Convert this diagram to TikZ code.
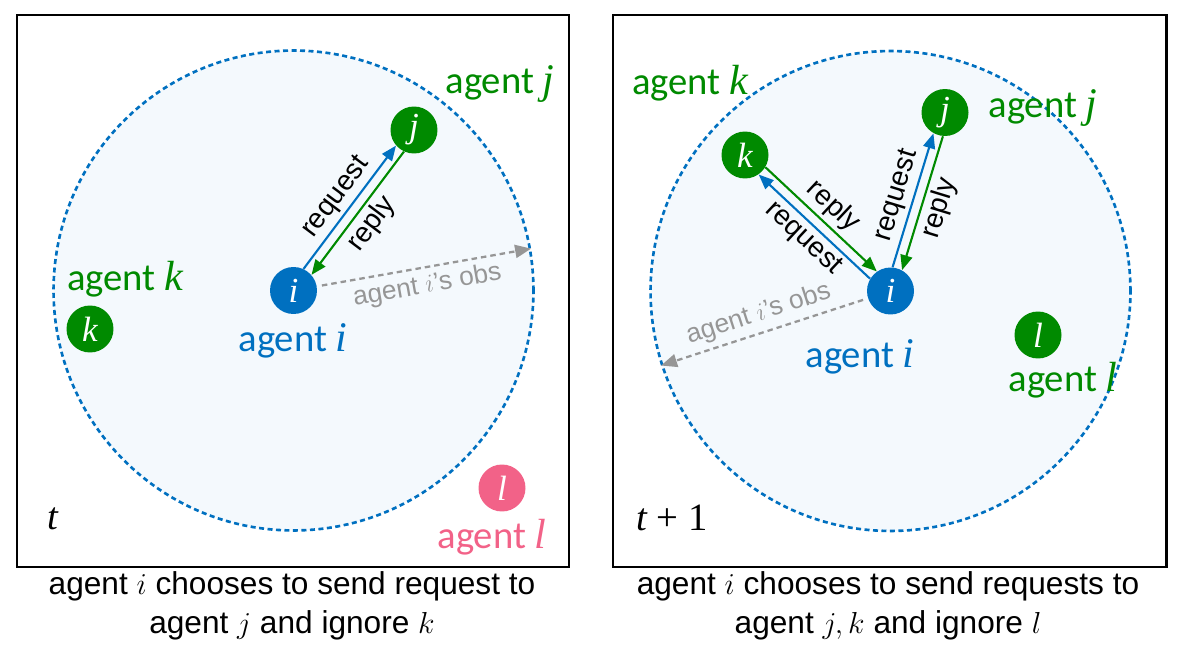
\documentclass[tikz,border=0pt]{standalone}
\usepackage{fontspec}
\setmainfont{Liberation Sans}
\newfontfamily\agentfont{Carlito}
\newfontfamily\letterfont{Liberation Serif}
\usetikzlibrary{arrows.meta,positioning}

\definecolor{agentblue}{RGB}{0,112,192}
\definecolor{agentgreen}{RGB}{0,138,0}
\definecolor{agentpink}{RGB}{242,98,136}
\definecolor{fovfill}{RGB}{244,249,253}
\definecolor{obsgray}{RGB}{150,150,150}

\newcommand{\lt}[1]{{\letterfont\itshape #1}}

\tikzset{
  agent/.style={circle, minimum size=0.94cm, inner sep=0pt, text=white, font=\letterfont\itshape\fontsize{20}{20}\selectfont},
  fov/.style={circle, minimum size=9.6cm, inner sep=0pt, fill=fovfill, draw=agentblue, line width=1.5pt, dash pattern=on 0.1cm off 0.07cm},
  panel/.style={draw=black, line width=1.7pt},
  aglabel/.style={font=\agentfont\fontsize{22}{22}\selectfont, inner sep=1pt},
  msg/.style={line width=1.2pt, -{Triangle[length=0.3cm,width=0.24cm]}},
  msglabel/.style={font=\fontsize{16}{16}\selectfont, text=black, inner sep=2pt},
  obs/.style={draw=obsgray, line width=1.3pt, dash pattern=on 0.11cm off 0.08cm, shorten <=0.1cm, -{Triangle[length=0.32cm,width=0.26cm]}},
  obslabel/.style={font=\fontsize{15}{15}\selectfont, text=obsgray, inner sep=3pt},
  timelabel/.style={font=\letterfont\fontsize{22}{22}\selectfont},
  caption/.style={align=center, font=\fontsize{18}{22.2}\selectfont}
}

\begin{document}
\begin{tikzpicture}[x=0.02cm, y=-0.02cm]
\useasboundingbox (0,0) rectangle (1184,655);

%% TIME STEP t
\draw[panel] (17,15) rectangle (569,567);
\node[fov](fov_t) at (293.5,290.5) {};

\node[agent, fill=agentblue](i_t) at (293.5,290.5) {i};
\node[agent, fill=agentgreen](j_t) at (414,130) {j};
\node[agent, fill=agentgreen](k_t) at (90,329) {k};
\node[agent, fill=agentpink](l_t) at (502,488) {l};

\node[aglabel, text=agentblue](lab_i_t) at (293,341) {agent \lt{\fontsize{24}{24}\selectfont i}};
\node[aglabel, text=agentgreen](lab_j_t) at (500,84) {agent \lt{\fontsize{24}{24}\selectfont j}};
\node[aglabel, text=agentgreen](lab_k_t) at (125,279) {agent \lt{\fontsize{24}{24}\selectfont k}};
\node[aglabel, text=agentpink](lab_l_t) at (492,537) {agent \lt{\fontsize{24}{24}\selectfont l}};
\node[timelabel](time_t) at (53,519) {\lt{t}};

\draw[msg, agentblue] (i_t.65) -- node[msglabel, sloped, above]{request} (j_t.221);
\draw[msg, agentgreen] (j_t.245) -- node[msglabel, sloped, below]{reply} (i_t.41);
\draw[obs] (i_t.10) -- node[obslabel, sloped, below]{agent $i$'s obs} (fov_t.10);

%% TIME STEP t+1
\draw[panel] (613,15) rectangle (1166,567);
\node[fov](fov_t1) at (890.5,291) {};

\node[agent, fill=agentblue](i_t1) at (890.5,291) {i};
\node[agent, fill=agentgreen](j_t1) at (945,112.5) {j};
\node[agent, fill=agentgreen](k_t1) at (745,155) {k};
\node[agent, fill=agentgreen](l_t1) at (1038,335) {l};

\node[aglabel, text=agentblue](lab_i_t1) at (860,357) {agent \lt{\fontsize{24}{24}\selectfont i}};
\node[aglabel, text=agentgreen](lab_j_t1) at (1043,108) {agent \lt{\fontsize{24}{24}\selectfont j}};
\node[aglabel, text=agentgreen](lab_k_t1) at (690,83) {agent \lt{\fontsize{24}{24}\selectfont k}};
\node[aglabel, text=agentgreen](lab_l_t1) at (1063,380) {agent \lt{\fontsize{24}{24}\selectfont l}};
\node[timelabel](time_t1) at (672,518) {\lt{t} + 1};

\draw[msg, agentblue] (i_t1.85) -- node[msglabel, sloped, above]{request} (j_t1.241);
\draw[msg, agentgreen] (j_t1.265) -- node[msglabel, sloped, below]{reply} (i_t1.61);
\draw[msg, agentblue] (i_t1.149) -- node[msglabel, sloped, below]{request} (k_t1.305);
\draw[msg, agentgreen] (k_t1.329) -- node[msglabel, sloped, above]{reply} (i_t1.125);
\draw[obs] (i_t1.198) -- node[obslabel, sloped, above]{agent $i$'s obs} (fov_t1.198);

% captions
\node[caption](cap_t) at (292,606) {agent $i$ chooses to send request to\\agent $j$ and ignore $k$};
\node[caption](cap_t1) at (888,606) {agent $i$ chooses to send requests to\\agent $j, k$ and ignore $l$};

\end{tikzpicture}
\end{document}
